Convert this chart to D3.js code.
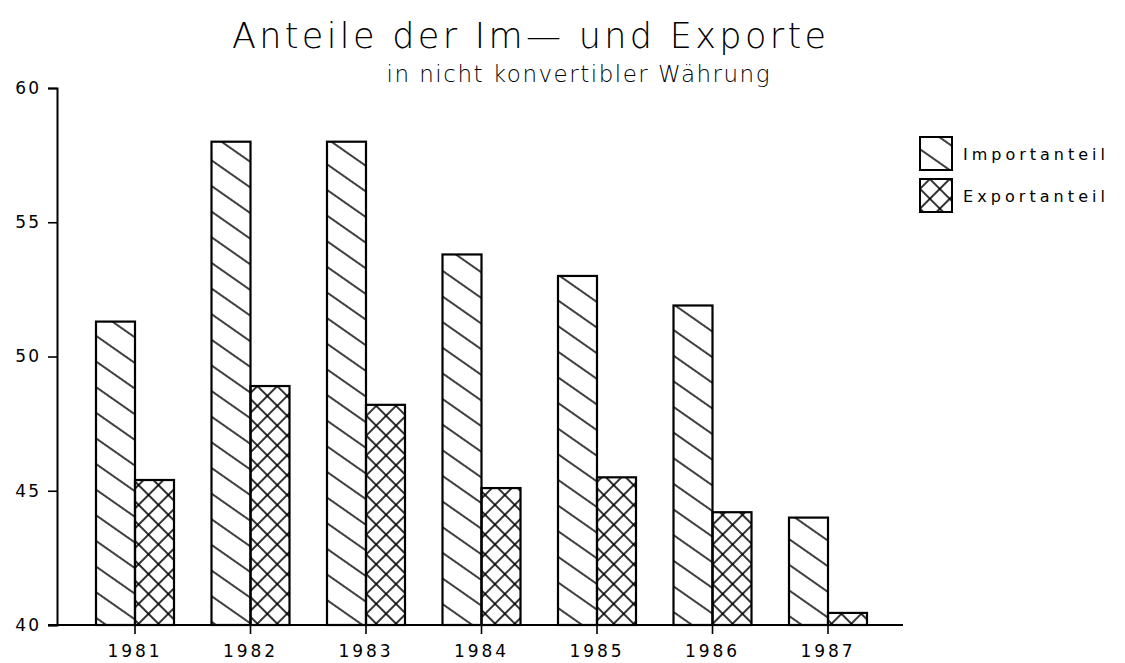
<!DOCTYPE html>
<meta charset="utf-8">
<title>Anteile der Im- und Exporte</title>
<script src="https://cdn.jsdelivr.net/npm/d3@7"></script>
<style>
  body { margin: 0; background: #fff; }
  text { font-family: "DejaVu Sans", sans-serif; fill: #000; }
</style>
<body>
<div id="chart"></div>
<script>
// data
var years = ["1981", "1982", "1983", "1984", "1985", "1986", "1987"];
var importShare = [51.3, 58.0, 58.0, 53.8, 53.0, 51.9, 44.0];
var exportShare = [45.4, 48.9, 48.2, 45.1, 45.5, 44.2, 40.45];
var yTicks = [40, 45, 50, 55, 60];
var seriesNames = ["Importanteil", "Exportanteil"];

var width = 1125, height = 663;

var svg = d3.select("#chart").append("svg")
    .attr("width", width)
    .attr("height", height);

// hatch patterns
var defs = svg.append("defs");
defs.append("pattern")
    .attr("id", "hatchImport")
    .attr("patternUnits", "userSpaceOnUse")
    .attr("width", 40).attr("height", 21)
    .attr("patternTransform", "rotate(35)")
  .append("line")
    .attr("x1", 0).attr("y1", 10).attr("x2", 40).attr("y2", 10)
    .attr("stroke", "#000").attr("stroke-width", 1.7);

var cross = defs.append("pattern")
    .attr("id", "hatchExport")
    .attr("patternUnits", "userSpaceOnUse")
    .attr("width", 14).attr("height", 14)
    .attr("patternTransform", "rotate(45)");
cross.append("line")
    .attr("x1", 0).attr("y1", 7).attr("x2", 14).attr("y2", 7)
    .attr("stroke", "#000").attr("stroke-width", 1.6);
cross.append("line")
    .attr("x1", 7).attr("y1", 0).attr("x2", 7).attr("y2", 14)
    .attr("stroke", "#000").attr("stroke-width", 1.6);

// scales
var x = d3.scaleBand().domain(years).range([77.25, 885.75]).padding(0);
var y = d3.scaleLinear().domain([40, 60]).range([625, 88]);
var barW = 39;

// bars
var groups = svg.selectAll(".year")
    .data(years)
    .enter().append("g")
    .attr("class", "year");

groups.append("rect")
    .attr("x", function(d) { return x(d) + x.bandwidth() / 2 - barW; })
    .attr("y", function(d, i) { return y(importShare[i]); })
    .attr("width", barW)
    .attr("height", function(d, i) { return y(40) - y(importShare[i]); })
    .attr("fill", "url(#hatchImport)")
    .attr("stroke", "#000").attr("stroke-width", 2.2);

groups.append("rect")
    .attr("x", function(d) { return x(d) + x.bandwidth() / 2; })
    .attr("y", function(d, i) { return y(exportShare[i]); })
    .attr("width", barW)
    .attr("height", function(d, i) { return y(40) - y(exportShare[i]); })
    .attr("fill", "url(#hatchExport)")
    .attr("stroke", "#000").attr("stroke-width", 2.2);

// y axis
var yAxis = svg.append("g")
    .attr("transform", "translate(57,0)")
    .call(d3.axisLeft(y).tickValues(yTicks).tickSize(9).tickPadding(7).tickFormat(d3.format("d")));
yAxis.select(".domain").attr("stroke", "#000").attr("stroke-width", 2);
yAxis.selectAll(".tick line").attr("stroke-width", 1.6);
yAxis.selectAll(".tick text")
    .style("font-size", "17px").style("letter-spacing", "2px");

// x axis
var xAxis = svg.append("g")
    .attr("transform", "translate(0,625)")
    .call(d3.axisBottom(x).tickSize(9).tickPadding(11));
xAxis.select(".domain").remove();
xAxis.selectAll(".tick line").attr("stroke-width", 1.6);
xAxis.selectAll(".tick text")
    .style("font-size", "17px").style("letter-spacing", "3px");
svg.append("line")
    .attr("x1", 48).attr("x2", 903)
    .attr("y1", y(40)).attr("y2", y(40))
    .attr("stroke", "#000").attr("stroke-width", 2);

// titles
svg.append("text")
    .attr("x", 529).attr("y", 48)
    .attr("text-anchor", "middle")
    .attr("textLength", 594).attr("lengthAdjust", "spacing")
    .style("font-size", "35px").style("font-weight", 200)
    .text("Anteile der Im\u2014 und Exporte");
svg.append("text")
    .attr("x", 578).attr("y", 82)
    .attr("text-anchor", "middle")
    .attr("textLength", 383).attr("lengthAdjust", "spacing")
    .style("font-size", "23px").style("font-weight", 200)
    .text("in nicht konvertibler W\u00e4hrung");

// legend
var legend = svg.selectAll(".legend")
    .data(seriesNames)
    .enter().append("g")
    .attr("class", "legend")
    .attr("transform", function(d, i) { return "translate(920," + (137 + i * 42) + ")"; });
legend.append("rect")
    .attr("width", 32).attr("height", 33)
    .attr("fill", function(d, i) { return i === 0 ? "url(#hatchImport)" : "url(#hatchExport)"; })
    .attr("stroke", "#000").attr("stroke-width", 2);
legend.append("text")
    .attr("x", 43).attr("y", 23)
    .attr("textLength", 142).attr("lengthAdjust", "spacing")
    .style("font-size", "16px")
    .text(function(d) { return d; });
</script>
</body>
